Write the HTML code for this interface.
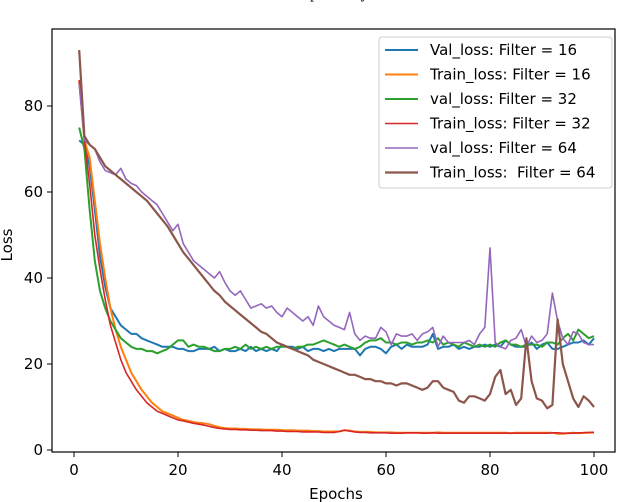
<!DOCTYPE html>
<html><head><meta charset="utf-8"><style>
body{margin:0;background:#fff;}
svg{display:block;font-family:"DejaVu Sans","Liberation Sans",sans-serif;}
</style></head><body>
<svg id="chart" width="622" height="502" viewBox="0 0 622 502" xmlns="http://www.w3.org/2000/svg">
<text x="330" y="-2" font-family="Liberation Serif, serif" font-size="16" text-anchor="middle">respectively</text>
<g id="marks"></g>
<rect x="52" y="29" width="563" height="423" fill="none" stroke="#000" stroke-width="1.2"/>
<g id="axes"></g>
<text x="336" y="499" font-size="15" text-anchor="middle">Epochs</text>
<text transform="translate(12,245) rotate(-90)" font-size="15" text-anchor="middle">Loss</text>
<g id="legend"></g>
</svg>
<script>
const xTicks=[0,20,40,60,80,100];
const yTicks=[0,20,40,60,80];
const seriesNames=["Val_loss: Filter = 16","Train_loss: Filter = 16","val_loss: Filter = 32","Train_loss: Filter = 32","val_loss: Filter = 64","Train_loss:  Filter = 64"];
const seriesColors=["#1f77b4","#ff7f0e","#2ca02c","#d62728","#9467bd","#8c564b"];
const val16=[72,71,66,56,45,38,33,31,29,28,27,27,26,25.5,25,24.5,24,24,24,23.5,23.5,23,23,23.5,23.5,23.5,24,23,23.5,23,23,23.5,23,24,23,23.5,23,23.5,23,24.5,24,24,23.5,24,23,23.5,23.5,23,23.5,23,23.5,23.5,23.5,23.5,22,23.5,24,24,23.5,22.5,24,24.5,23.5,24.5,24,24,24,24.5,27,23.5,24,24,24.5,23.5,24,23.5,24,24,24.5,24,24.5,24,25.5,24.5,24,24,24,25,23.5,24.5,25,23.5,23.5,24,24.5,25,25,25.5,24.5,26];
const train16=[86,72,68,58,48,40,33,28,24,21,18,16,14,12.5,11,10,9,8.5,8,7.5,7,6.8,6.5,6.3,6.2,6,5.6,5.3,5.1,5,5,4.9,4.9,4.8,4.8,4.8,4.7,4.7,4.7,4.6,4.6,4.6,4.5,4.5,4.5,4.4,4.4,4.3,4.3,4.3,4.3,4.6,4.5,4.3,4.2,4.2,4.2,4.1,4.1,4.1,4.1,4,4,4,4,4,4,4,4,4.1,4,4,4,4,4,4,4,4,4,4,4,4,4,3.9,4,4,4,4,4,4,4,4,3.8,3.8,3.9,4,3.9,4,4,4.1];
const val32=[75,70,56,44,37,33,30,28,26,25,24,23.5,23.5,23,23,22.5,23,23.5,24.5,25.5,25.5,24,24.5,24,24,23.5,23,23,23.5,23.5,24,23.5,24.5,23.5,24,23.5,24,23.5,24,24,24,23.5,24,24,24.5,24.5,25,25.5,25,24.5,24,24.5,24,23.5,24,25,25.5,25.5,26,25,25,24.5,25,25,24.5,25,25,25.5,25,26,24.5,25,24.5,24,25,24.5,24,24.5,24,24.5,24,25,25.5,24.5,24.5,24,24.5,24.5,24.5,24,25,25,24.5,26,27,25.5,28,27,26,26.5];
const train32=[86,72,62,50,42,35,29,25,21,18,16,14,12.5,11,10,9,8.5,8,7.5,7,6.8,6.5,6.2,6,5.8,5.5,5.2,5,4.9,4.8,4.8,4.7,4.7,4.6,4.6,4.5,4.5,4.5,4.4,4.4,4.3,4.3,4.3,4.2,4.2,4.2,4.2,4.1,4.1,4.1,4.3,4.6,4.4,4.2,4.1,4.1,4,4,4,4,3.9,3.9,3.9,4,4,4,3.9,3.9,4,3.9,3.9,3.9,3.9,3.9,3.9,3.9,3.9,3.9,3.9,3.9,3.9,3.9,3.9,3.9,3.9,3.9,3.9,3.9,3.9,3.9,3.9,4,4,3.9,3.9,3.9,4,4,4.1,4.1];
const val64=[85,72,71,70,67,65,64.5,64,65.5,63,62,61.5,60,59,58,57,55,53,51,52.5,48,46,44,43,42,41,40,41.5,39,37,36,37,35,33,33.5,34,33,33.5,32,31,33,32,31,30,31,29,33.5,31,30,29,28.5,28,32,27,25.5,26.5,26,26,28.5,27.5,24.5,27,26.5,26.5,27,25.5,27,27.5,28.5,24,26.5,25,25,25,25,25.5,24.5,27,28.5,47,25,24,23.5,25.5,26,28,24,26.5,25,25.5,27,36.5,30,26,24.5,27.5,27,25,24.5,24.5];
const train64=[93,73,71,70,68,66,65,64,63,62,61,60,59,58,56.5,55,53.5,52,50,48,46,44.5,43,41.5,40,38.5,37,36,34.5,33.5,32.5,31.5,30.5,29.5,28.5,27.5,27,26,25,24.5,24,23.5,23,22.5,22,21,20.5,20,19.5,19,18.5,18,17.5,17.5,17,16.5,16.5,16,16,15.5,15.5,15,15.5,15.5,15,14.5,14,14.5,16,16,14.5,14,13.5,11.5,11,12.5,12.5,12,11.5,13,17,18.6,13,14,10.5,12,26,16,12,11.5,9.7,10.5,30.4,20,16,12,10,12.5,11.5,10];
const allSeries=[val16,train16,val32,train32,val64,train64];
const widths=[2,2,2,1.6,1.6,2.2];

const NS="http://www.w3.org/2000/svg";
function xs(v){return 74+5.2*v;}
function ys(v){return 450-4.3*v;}
const marks=document.getElementById('marks');
allSeries.forEach((s,i)=>{
  const p=document.createElementNS(NS,'polyline');
  p.setAttribute('points',s.map((v,k)=>xs(k+1).toFixed(1)+','+ys(v).toFixed(1)).join(' '));
  p.setAttribute('fill','none');p.setAttribute('stroke',seriesColors[i]);
  p.setAttribute('stroke-width',widths[i]);p.setAttribute('stroke-linejoin','round');
  
  
  marks.appendChild(p);
});
const axes=document.getElementById('axes');
xTicks.forEach(t=>{
  const l=document.createElementNS(NS,'line');
  l.setAttribute('x1',xs(t));l.setAttribute('x2',xs(t));l.setAttribute('y1',452);l.setAttribute('y2',457);l.setAttribute('stroke','#000');
  
  
  axes.appendChild(l);
  const tx=document.createElementNS(NS,'text');
  tx.setAttribute('x',xs(t));tx.setAttribute('y',475);tx.setAttribute('font-size','15');tx.setAttribute('text-anchor','middle');
  tx.textContent=t;
  
  
  axes.appendChild(tx);
});
yTicks.forEach(t=>{
  const l=document.createElementNS(NS,'line');
  l.setAttribute('x1',47);l.setAttribute('x2',52);l.setAttribute('y1',ys(t));l.setAttribute('y2',ys(t));l.setAttribute('stroke','#000');
  
  
  axes.appendChild(l);
  const tx=document.createElementNS(NS,'text');
  tx.setAttribute('x',43);tx.setAttribute('y',ys(t)+5);tx.setAttribute('font-size','15');tx.setAttribute('text-anchor','end');
  tx.textContent=t;
  
  
  axes.appendChild(tx);
});
const lg=document.getElementById('legend');
const box=document.createElementNS(NS,'rect');
box.setAttribute('x',379);box.setAttribute('y',37);box.setAttribute('width',233);box.setAttribute('height',151);box.setAttribute('rx',3);
box.setAttribute('fill','#fff');box.setAttribute('stroke','#ccc');


lg.appendChild(box);
seriesNames.forEach((n,i)=>{
  const y=50+24.5*i;
  const l=document.createElementNS(NS,'line');
  l.setAttribute('x1',385);l.setAttribute('x2',418);l.setAttribute('y1',y);l.setAttribute('y2',y);
  l.setAttribute('stroke',seriesColors[i]);l.setAttribute('stroke-width',widths[i]);
  
  
  lg.appendChild(l);
  const t=document.createElementNS(NS,'text');
  t.setAttribute('x',430);t.setAttribute('y',y+5);t.setAttribute('font-size','15');
  t.setAttribute('xml:space','preserve');t.style.whiteSpace='pre';
  t.textContent=n;
  
  
  lg.appendChild(t);
});
</script>
</body></html>
